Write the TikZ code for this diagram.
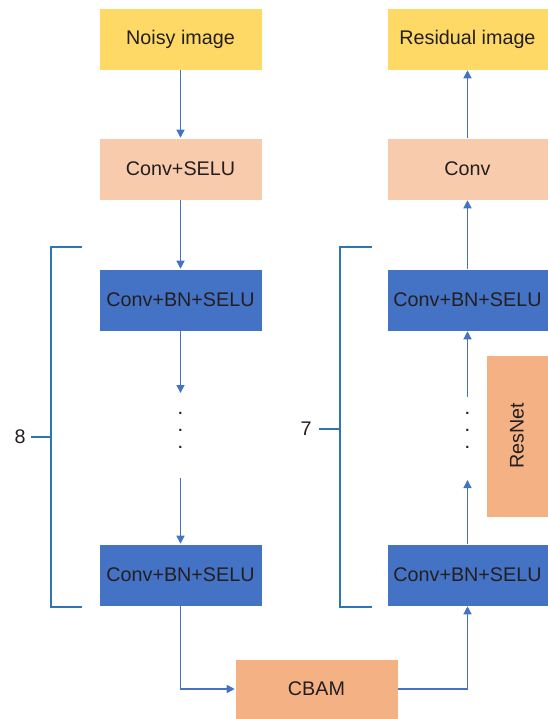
\documentclass[tikz,border=0pt]{standalone}
\usepackage{fontspec}
\setmainfont{Liberation Sans}
\usetikzlibrary{arrows.meta}
\definecolor{yel}{RGB}{255,217,102}
\definecolor{peach}{RGB}{248,203,173}
\definecolor{blu}{RGB}{68,114,196}
\definecolor{org}{RGB}{244,177,131}
\definecolor{brkc}{RGB}{46,117,182}
\definecolor{txt}{RGB}{35,31,32}
\begin{document}
\begin{tikzpicture}[x=0.75pt,y=0.75pt,yscale=-1,xscale=1,
		box/.style={draw=white, line width=0.4pt, minimum height=46.5pt, inner sep=0pt, text=txt, font=\fontsize{14.8}{17}\selectfont},
		lbox/.style={box, minimum width=122.25pt},
		rbox/.style={box, minimum width=120.75pt},
		arr/.style={draw=blu, line width=1pt, -{Triangle[width=6pt,length=6pt]}},
		brk/.style={draw=brkc, line width=1pt},
		dotn/.style={text=txt, font=\fontsize{11}{12}\selectfont\bfseries, inner sep=0pt}]
		%uncomment if require: \path (0,719); %set diagram left start at 0, and has height of 719
		\useasboundingbox (0,0) rectangle (548,719);
		
		% left column
		\node (noisy) [lbox, fill=yel] at (180.5,39) {Noisy image};
		\node (cselu) [lbox, fill=peach] at (180.5,169) {Conv+SELU};
		\node (lbn1) [lbox, fill=blu] at (180.5,300) {Conv+BN+SELU};
		\node (lbn2) [lbox, fill=blu] at (180.5,575) {Conv+BN+SELU};
		\coordinate (ldt) at (180.5,393);
		\coordinate (ldb) at (180.5,478);
		\foreach \y in {413,430,447}
			\node (ldot\y) [dotn] at (180.5,\y) {.};
		
		% right column
		\node (resid) [rbox, fill=yel] at (467.5,39) {Residual image};
		\node (conv) [rbox, fill=peach] at (467.5,169) {Conv};
		\node (rbn1) [rbox, fill=blu] at (467.5,300) {Conv+BN+SELU};
		\node (rbn2) [rbox, fill=blu] at (467.5,575) {Conv+BN+SELU};
		\coordinate (rdt) at (467.5,397);
		\coordinate (rdb) at (467.5,480);
		\foreach \y in {413,430,447}
			\node (rdot\y) [dotn] at (467.5,\y) {.};
		\node (resnet) [box, fill=org, rotate=90, minimum width=121.5pt] at (517,436) {ResNet};
		
		% attention
		\node (cbam) [box, fill=org, minimum width=122.25pt, minimum height=45pt] at (316.5,689) {CBAM};
		
		\draw [arr] (noisy) -- (cselu);
		\draw [arr] (cselu) -- (lbn1);
		\draw [arr] (lbn1) -- (ldt);
		\draw [arr] (ldb) -- (lbn2);
		\draw [arr] (lbn2.south) |- (cbam.west);
		\draw [arr] (cbam.east) -| (rbn2.south);
		\draw [arr] (rbn2) -- (rdb);
		\draw [arr] (rdt) -- (rbn1);
		\draw [arr] (rbn1) -- (conv);
		\draw [arr] (conv) -- (resid);
		
		% brackets
		\node (eight) [text=txt, font=\fontsize{14.8}{17}\selectfont] at (20,437) {8};
		\draw [brk] (82,247) -- (51,247) -- (51,607) -- (82,607);
		\draw [brk] (31,437) -- (51,437);
		\node (seven) [text=txt, font=\fontsize{14.8}{17}\selectfont] at (306,429) {7};
		\draw [brk] (372,247) -- (340,247) -- (340,607) -- (372,607);
		\draw [brk] (319,429) -- (340,429);
		
\end{tikzpicture}
\end{document}
